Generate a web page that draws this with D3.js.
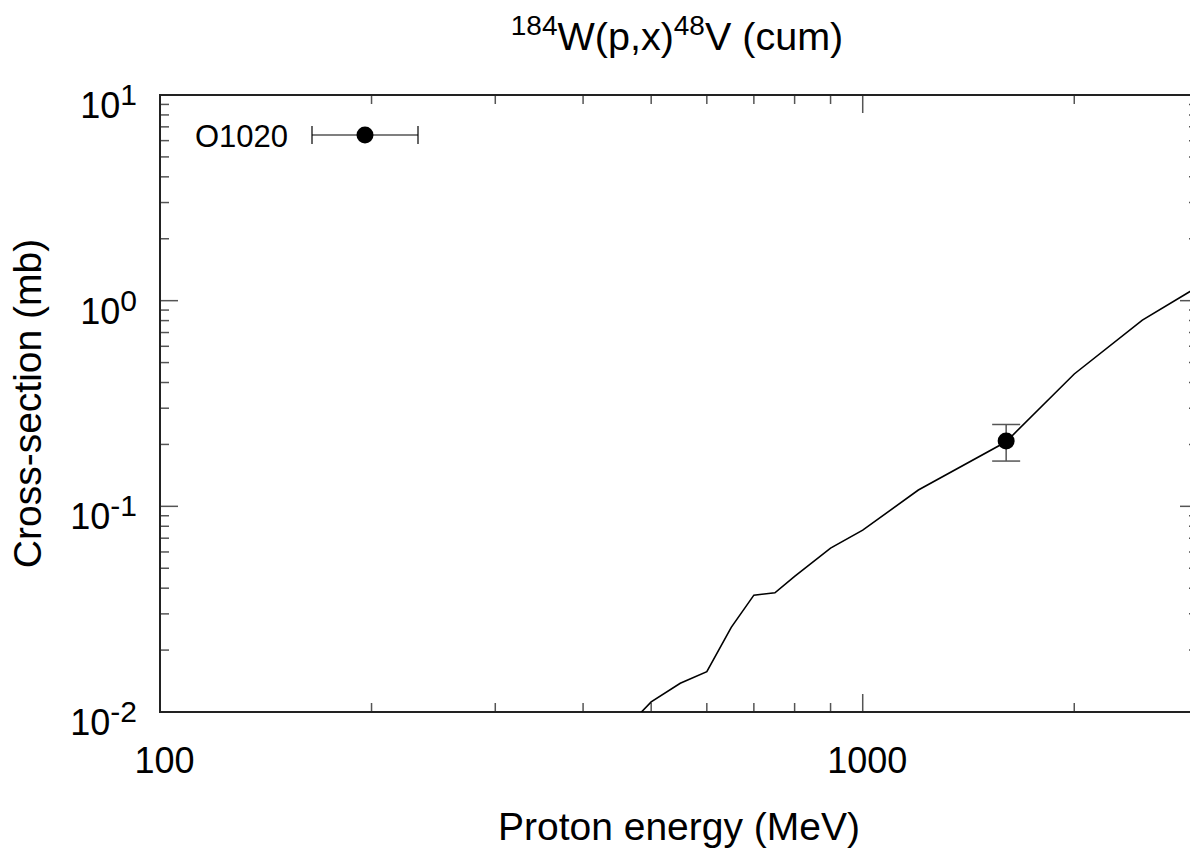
<!DOCTYPE html>
<html><head><meta charset="utf-8">
<script src="https://cdn.jsdelivr.net/npm/d3@7"></script>
<style>html,body{margin:0;padding:0;background:#fff;}svg{display:block;}text{font-family:"Liberation Sans",Arial,sans-serif;fill:#000;}</style>
</head><body>
<svg id="chart" width="1190" height="850"></svg>
<script>
// Calculation curve
const curveEnergy = [450, 500, 550, 600, 650, 700, 750, 800, 900, 1000, 1200, 1600, 2000, 2500, 3000];
const curveXS = [0.0077, 0.0112, 0.0138, 0.0157, 0.0258, 0.0370, 0.0380, 0.0457, 0.0626, 0.0766, 0.120, 0.206, 0.44, 0.805, 1.17];
// Experimental data O1020
const dataEnergy = [1600];
const dataXS = [0.208];
const dataErr = [0.042];
const legendLabel = ["O1020"];
const xTickValues = [100, 1000];
const xTickLabels = ["100", "1000"];
const yTickValues = [0.01, 0.1, 1, 10];
const yTickExponents = ["-2", "-1", "0", "1"];

const svg = d3.select("#chart");
const L = 160, R = 1198, T = 95, B = 712;
const x = d3.scaleLog().domain([100, 3000]).range([L, R]);
const y = d3.scaleLog().domain([0.01, 10]).range([B, T]);

svg.append("defs").append("clipPath").attr("id", "clip")
  .append("rect").attr("x", L).attr("y", T).attr("width", R - L).attr("height", B - T);

// minor / major ticks
const xMinor = [];
for (let d = 100; d <= 1000; d *= 10) for (let k = 2; k <= 9; k++) if (d * k <= 3000) xMinor.push(d * k);
const yMinor = [];
for (let d = 0.01; d < 10; d *= 10) for (let k = 2; k <= 9; k++) yMinor.push(d * k);

const tickColor = "#555";
const g = svg.append("g");
function vt(v, len) {
  g.append("line").attr("x1", x(v)).attr("x2", x(v)).attr("y1", B).attr("y2", B - len).attr("stroke", tickColor).attr("stroke-width", 1.5);
  g.append("line").attr("x1", x(v)).attr("x2", x(v)).attr("y1", T).attr("y2", T + len).attr("stroke", tickColor).attr("stroke-width", 1.5);
}
function ht(v, len) {
  g.append("line").attr("y1", y(v)).attr("y2", y(v)).attr("x1", L).attr("x2", L + len).attr("stroke", tickColor).attr("stroke-width", 1.5);
  g.append("line").attr("y1", y(v)).attr("y2", y(v)).attr("x1", R).attr("x2", R - len).attr("stroke", tickColor).attr("stroke-width", 1.5);
}
xMinor.forEach(v => vt(v, 9));
xTickValues.forEach(v => vt(v, 18));
yMinor.forEach(v => ht(v, 9));
yTickValues.forEach(v => ht(v, 18));

// frame
svg.append("rect").attr("x", L).attr("y", T).attr("width", R - L).attr("height", B - T)
  .attr("fill", "none").attr("stroke", "#222").attr("stroke-width", 2);

// x tick labels
xTickValues.forEach((v, i) => {
  svg.append("text").attr("x", x(v) + 4.5).attr("y", B + 61).attr("text-anchor", "middle")
    .attr("font-size", 36).text(xTickLabels[i]);
});
// y tick labels
yTickValues.forEach((v, i) => {
  const t = svg.append("text").attr("x", 137).attr("y", y(v) + 23).attr("text-anchor", "end").attr("font-size", 36);
  t.append("tspan").text("10");
  t.append("tspan").attr("font-size", 30).attr("dy", -13).text(yTickExponents[i]);
});

// axis titles
svg.append("text").attr("x", (L + R) / 2).attr("y", 840).attr("text-anchor", "middle").attr("font-size", 39).text("Proton energy (MeV)");
svg.append("text").attr("transform", `translate(41,${(T + B) / 2}) rotate(-90)`).attr("text-anchor", "middle").attr("font-size", 39).text("Cross-section (mb)");

// title
const title = svg.append("text").attr("x", 677).attr("y", 50).attr("text-anchor", "middle").attr("font-size", 39.5);
title.append("tspan").attr("font-size", 28).attr("dy", -15).text("184");
title.append("tspan").attr("dy", 15).text("W(p,x)");
title.append("tspan").attr("font-size", 28).attr("dy", -15).text("48");
title.append("tspan").attr("dy", 15).text("V (cum)");

// curve
const line = d3.line().x(d => x(d[0])).y(d => y(d[1]));
svg.append("path").attr("clip-path", "url(#clip)")
  .datum(curveEnergy.map((e, i) => [e, curveXS[i]]))
  .attr("d", line).attr("fill", "none").attr("stroke", "#000").attr("stroke-width", 1.6);

// data points with error bars
const pts = dataEnergy.map((e, i) => ({ e, v: dataXS[i], err: dataErr[i] }));
const pg = svg.append("g").attr("clip-path", "url(#clip)");
pts.forEach(p => {
  const cx = x(p.e);
  pg.append("line").attr("x1", cx).attr("x2", cx).attr("y1", y(p.v + p.err)).attr("y2", y(p.v - p.err)).attr("stroke", "#555").attr("stroke-width", 1.5);
  [p.v + p.err, p.v - p.err].forEach(v => {
    pg.append("line").attr("x1", cx - 14).attr("x2", cx + 14).attr("y1", y(v)).attr("y2", y(v)).attr("stroke", "#555").attr("stroke-width", 1.5);
  });
  pg.append("circle").attr("cx", cx).attr("cy", y(p.v)).attr("r", 8.5).attr("fill", "#000");
});

// legend
const lg = svg.append("g");
lg.append("text").attr("x", 195).attr("y", 147).attr("font-size", 31).text(legendLabel[0]);
lg.append("line").attr("x1", 312).attr("x2", 418).attr("y1", 135).attr("y2", 135).attr("stroke", "#000").attr("stroke-width", 1.2);
[312, 418].forEach(xx => lg.append("line").attr("x1", xx).attr("x2", xx).attr("y1", 126).attr("y2", 144).attr("stroke", "#000").attr("stroke-width", 1.2));
lg.append("circle").attr("cx", 365).attr("cy", 135).attr("r", 8.5).attr("fill", "#000");
</script>
</body></html>
